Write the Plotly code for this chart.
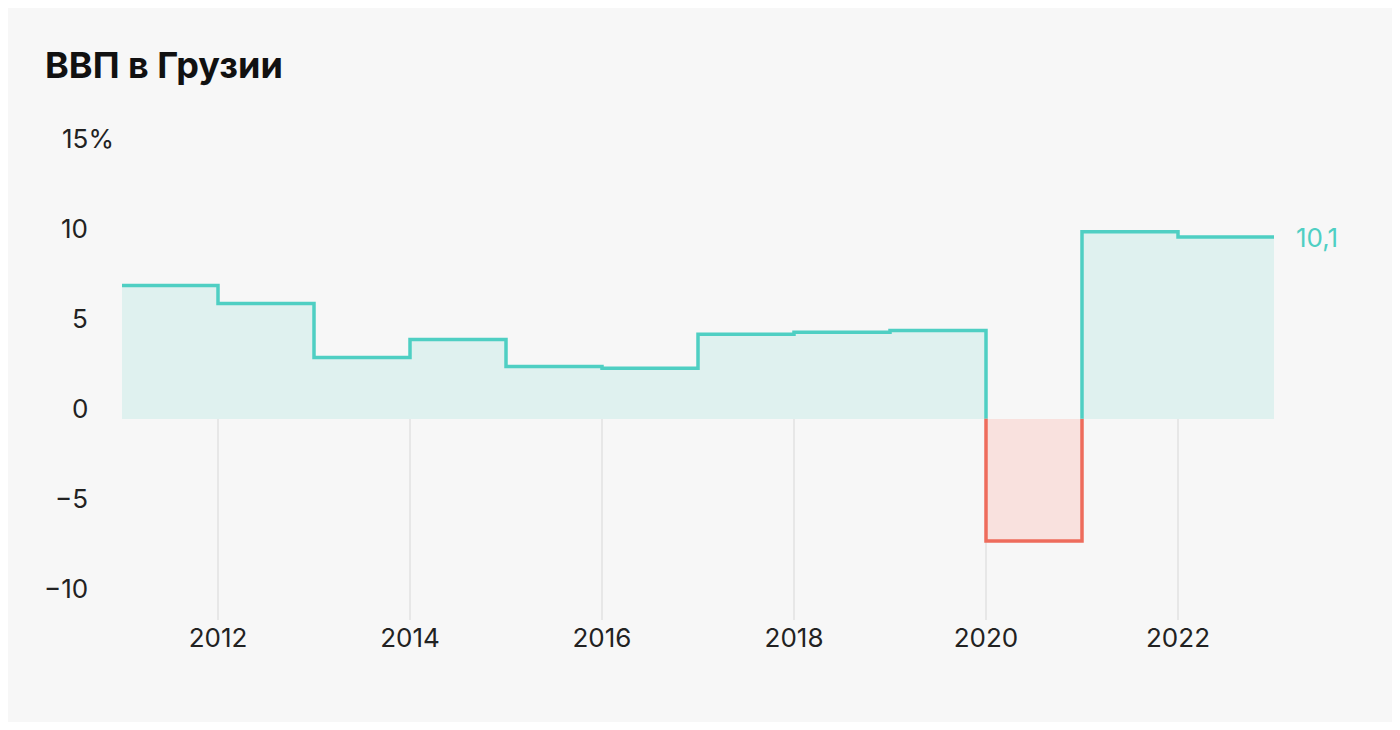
import plotly.graph_objects as go

years = [2011, 2012, 2013, 2014, 2015, 2016, 2017, 2018, 2019, 2020, 2021, 2022]
gdp = [7.4, 6.4, 3.4, 4.4, 2.9, 2.8, 4.7, 4.8, 4.9, -6.8, 10.4, 10.1]
xticks = [2012, 2014, 2016, 2018, 2020, 2022]
yticks = [15, 10, 5, 0, -5, -10]
ylabels = ["15%", "10", "5", "0", "−5", "−10"]

TEAL = "#4fcfc3"; TEAL_F = "#dff1ef"; RED = "#ee6c5c"; RED_F = "#f9e1de"
YMIN, YMAX = -11.2, 16

fig = go.Figure()
fig.add_trace(go.Bar(x=years, y=gdp, width=1, offset=0,
                     marker=dict(color=[TEAL_F if v >= 0 else RED_F for v in gdp], line_width=0),
                     hoverinfo="skip"))
segs = []
cur = None
for i, (yr, v) in enumerate(zip(years, gdp)):
    pos = v >= 0
    if cur is None or cur["pos"] != pos:
        if cur is not None:
            cur["x"].append(yr); cur["y"].append(0)
            segs.append(cur)
        cur = {"pos": pos, "x": [yr], "y": [0] if i > 0 else [v]}
    cur["x"] += [yr, yr + 1]; cur["y"] += [v, v]
segs.append(cur)
for s in segs:
    fig.add_trace(go.Scatter(x=s["x"], y=s["y"], mode="lines",
                             line=dict(color=TEAL if s["pos"] else RED, width=3.5),
                             hoverinfo="skip"))

shapes = []
for t in xticks:
    v = gdp[years.index(t)]
    shapes.append(dict(type="line", x0=t, x1=t, y0=YMIN, y1=max(v, 0), layer="below",
                       line=dict(color="#e2e2e2", width=1.5)))

ann = []
for t, lab in zip(yticks, ylabels):
    if lab.endswith("%"):
        ann.append(dict(x=-0.054, xref="paper", y=t, yref="y", text=lab, showarrow=False,
                        xanchor="left", yshift=10, font=dict(size=26, color="#222")))
    else:
        ann.append(dict(x=-0.028, xref="paper", y=t, yref="y", text=lab, showarrow=False,
                        xanchor="right", yshift=10, font=dict(size=26, color="#222")))
ann.append(dict(x=years[-1] + 1, y=gdp[-1], text=str(gdp[-1]).replace(".", ","), showarrow=False,
                xanchor="left", xshift=20, font=dict(size=26, color=TEAL)))
ann.append(dict(x=-0.069, y=1.135, xref="paper", yref="paper", text="<b>ВВП в Грузии</b>",
                showarrow=False, xanchor="left", yanchor="middle", font=dict(size=36, color="#111")))

fig.update_layout(
    width=1384, height=714, margin=dict(l=114, r=118, t=123, b=102),
    paper_bgcolor="#f7f7f7", plot_bgcolor="rgba(0,0,0,0)", showlegend=False,
    font=dict(family="Inter, Roboto, sans-serif", color="#222"),
    barmode="overlay", bargap=0,
    xaxis=dict(range=[2011, 2023], tickvals=xticks, ticktext=[str(t) for t in xticks],
               showgrid=False, zeroline=False, showline=False, ticks="",
               tickfont=dict(size=26, color="#222")),
    yaxis=dict(range=[YMIN, YMAX], showgrid=False, zeroline=False, showticklabels=False),
    shapes=shapes, annotations=ann,
)
fig.write_html("out.html")
